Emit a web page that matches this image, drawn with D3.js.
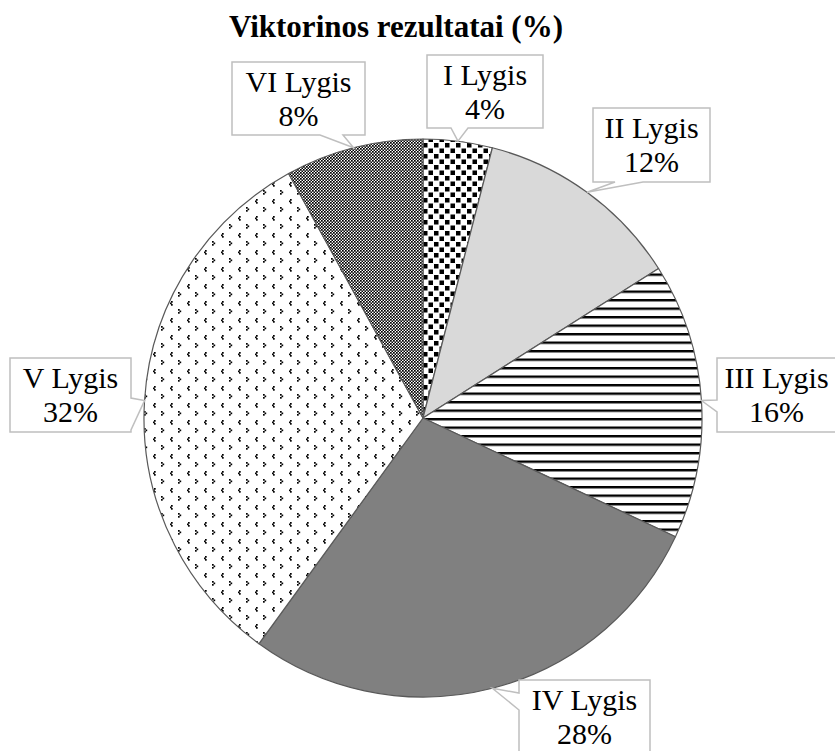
<!DOCTYPE html>
<html>
<head>
<meta charset="utf-8">
<script src="https://cdn.jsdelivr.net/npm/d3@7"></script>
<style>
  html, body { margin: 0; padding: 0; background: #fff; }
  svg { display: block; }
</style>
</head>
<body>
<div id="chart"></div>
<script>
// ---- data ----
const title = "Viktorinos rezultatai (%)";
const categories = ["I Lygis", "II Lygis", "III Lygis", "IV Lygis", "V Lygis", "VI Lygis"];
const values = [4, 12, 16, 28, 32, 8];
const valueLabels = ["4%", "12%", "16%", "28%", "32%", "8%"];

// ---- layout (not data) ----
const W = 835, H = 751;
const center = [423, 418];
const radius = 279;
const fills = ["url(#pI)", "#d9d9d9", "url(#pIII)", "#808080", "url(#pV)", "url(#pVI)"];
// label boxes: [x0, y0, x1, y1], side of the tail, tail base along that side
const boxes = [
  { box: [427, 55, 543, 128], side: "bottom", base: [451, 468] },
  { box: [593, 108, 710, 182], side: "bottom", base: [615, 643] },
  { box: [717, 358, 836, 432], side: "left", base: [400, 412] },
  { box: [519, 680, 650, 756], side: "left", base: [693, 710] },
  { box: [10, 358, 131, 432], side: "right", base: [398, 430] },
  { box: [232, 62, 365, 135], side: "bottom", base: [320, 343] }
];

const svg = d3.select("#chart").append("svg")
  .attr("width", W).attr("height", H)
  .attr("viewBox", `0 0 ${W} ${H}`);

// ---- patterns ----
const defs = svg.append("defs");
function pattern(id, w, h) {
  const p = defs.append("pattern").attr("id", id)
    .attr("patternUnits", "userSpaceOnUse").attr("width", w).attr("height", h);
  p.append("rect").attr("width", w).attr("height", h).attr("fill", "#fff");
  return p;
}
// I: scattered black squares
const pI = pattern("pI", 11, 11);
pI.append("rect").attr("x", 0).attr("y", 0).attr("width", 4.5).attr("height", 4.5).attr("fill", "#000");
pI.append("rect").attr("x", 5.5).attr("y", 5.5).attr("width", 4.5).attr("height", 4.5).attr("fill", "#000");
// III: horizontal lines
const pIII = pattern("pIII", 8, 8.5);
pIII.append("rect").attr("x", 0).attr("y", 0).attr("width", 8).attr("height", 2.4).attr("fill", "#000");
// V: sparse small marks
const pV = pattern("pV", 17, 17);
[[3, 2], [2, 3.5], [3, 5], [10, 10], [11.5, 11.5], [10, 13]].forEach(([x, y]) =>
  pV.append("rect").attr("x", x).attr("y", y).attr("width", 1.7).attr("height", 1.7).attr("fill", "#000"));
// VI: fine checkerboard
const pVI = pattern("pVI", 3, 3);
pVI.append("rect").attr("x", 0).attr("y", 0).attr("width", 1.7).attr("height", 1.7).attr("fill", "#000");
pVI.append("rect").attr("x", 1.5).attr("y", 1.5).attr("width", 1.5).attr("height", 1.5).attr("fill", "#000");

// ---- title ----
svg.append("text")
  .attr("x", 396).attr("y", 37)
  .attr("text-anchor", "middle")
  .attr("font-family", "'Liberation Serif', 'Times New Roman', serif")
  .attr("font-weight", "bold")
  .attr("font-size", 31)
  .attr("fill", "#000")
  .text(title);

// ---- pie ----
const pie = d3.pie().sort(null).value(d => d)(values);
const arc = d3.arc().innerRadius(0).outerRadius(radius);
const g = svg.append("g").attr("transform", `translate(${center[0]},${center[1]})`);
g.selectAll("path.slice").data(pie).join("path")
  .attr("class", "slice")
  .attr("d", arc)
  .attr("fill", (d, i) => fills[i])
  .attr("stroke", "#595959")
  .attr("stroke-width", 1.2)
  .attr("stroke-linejoin", "round");

// ---- callout labels ----
function calloutPath(b, apex) {
  const [x0, y0, x1, y1] = b.box;
  const [a, c] = b.base;
  const pts = [];
  pts.push([x0, y0]);
  pts.push([x1, y0]);
  if (b.side === "right") { pts.push([x1, a], apex, [x1, c]); }
  pts.push([x1, y1]);
  if (b.side === "bottom") { pts.push([c, y1], apex, [a, y1]); }
  pts.push([x0, y1]);
  if (b.side === "left") { pts.push([x0, c], apex, [x0, a]); }
  return "M" + pts.map(p => p.join(",")).join("L") + "Z";
}

const labels = svg.append("g");
pie.forEach((d, i) => {
  const mid = (d.startAngle + d.endAngle) / 2;
  const apex = [center[0] + radius * Math.sin(mid), center[1] - radius * Math.cos(mid)];
  const b = boxes[i];
  labels.append("path")
    .attr("d", calloutPath(b, apex))
    .attr("fill", "#fff")
    .attr("stroke", "#bfbfbf")
    .attr("stroke-width", 1.5);
  const cx = (b.box[0] + b.box[2]) / 2;
  const t = labels.append("text")
    .attr("text-anchor", "middle")
    .attr("font-family", "'Liberation Serif', 'Times New Roman', serif")
    .attr("font-size", 30)
    .attr("fill", "#000");
  t.append("tspan").attr("x", cx).attr("y", b.box[1] + 30).text(categories[i]);
  t.append("tspan").attr("x", cx).attr("y", b.box[1] + 64).text(valueLabels[i]);
});
</script>
</body>
</html>
